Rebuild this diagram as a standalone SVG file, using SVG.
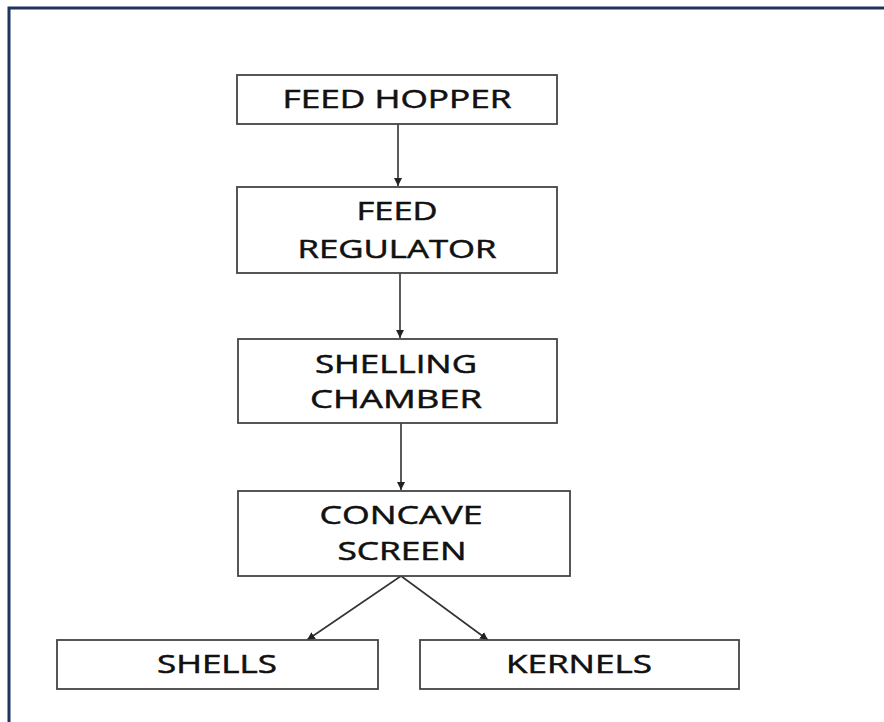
<svg xmlns="http://www.w3.org/2000/svg" width="884" height="722" viewBox="0 0 884 722">
<style>
.box{fill:#fff;stroke:#444;stroke-width:1.8}
.lbl{font-family:"Open Sans","Liberation Sans",sans-serif;font-size:25px;font-weight:400;fill:#111;stroke:#111;stroke-width:0.5;text-anchor:middle}
.con{stroke:#333;stroke-width:1.6;fill:none;marker-end:url(#ah)}
</style>
<defs>
<marker id="ah" viewBox="0 0 10 10" refX="10" refY="5" markerWidth="8" markerHeight="8" markerUnits="userSpaceOnUse" orient="auto">
<path d="M0,0 L10,5 L0,10 z" fill="#222"/>
</marker>
</defs>
<rect width="884" height="722" fill="#fff"/>
<path d="M9,722 V8 H884" fill="none" stroke="#1f3560" stroke-width="3"/>
<g id="connectors">
<line class="con" x1="398" y1="124" x2="398" y2="186"/>
<line class="con" x1="400" y1="273" x2="400" y2="338"/>
<line class="con" x1="401" y1="423" x2="401" y2="490"/>
<line class="con" x1="401" y1="576" x2="307" y2="640"/>
<line class="con" x1="401" y1="576" x2="488" y2="640"/>
</g>
<g id="feed-hopper">
<rect class="box" x="237" y="75" width="320" height="49"/>
<text class="lbl" x="397" y="108" textLength="229" lengthAdjust="spacingAndGlyphs">FEED HOPPER</text>
</g>
<g id="feed-regulator">
<rect class="box" x="237" y="187" width="320" height="86"/>
<text class="lbl" x="397" y="220" textLength="81" lengthAdjust="spacingAndGlyphs">FEED</text>
<text class="lbl" x="397" y="258" textLength="199" lengthAdjust="spacingAndGlyphs">REGULATOR</text>
</g>
<g id="shelling-chamber">
<rect class="box" x="238" y="339" width="319" height="84"/>
<text class="lbl" x="396" y="373" textLength="162" lengthAdjust="spacingAndGlyphs">SHELLING</text>
<text class="lbl" x="396" y="408" textLength="172" lengthAdjust="spacingAndGlyphs">CHAMBER</text>
</g>
<g id="concave-screen">
<rect class="box" x="238" y="491" width="332" height="85"/>
<text class="lbl" x="401" y="524" textLength="163" lengthAdjust="spacingAndGlyphs">CONCAVE</text>
<text class="lbl" x="402" y="560" textLength="129" lengthAdjust="spacingAndGlyphs">SCREEN</text>
</g>
<g id="shells">
<rect class="box" x="57" y="640" width="321" height="49"/>
<text class="lbl" x="217" y="673" textLength="120" lengthAdjust="spacingAndGlyphs">SHELLS</text>
</g>
<g id="kernels">
<rect class="box" x="420" y="640" width="319" height="49"/>
<text class="lbl" x="579" y="673" textLength="146" lengthAdjust="spacingAndGlyphs">KERNELS</text>
</g>
</svg>
